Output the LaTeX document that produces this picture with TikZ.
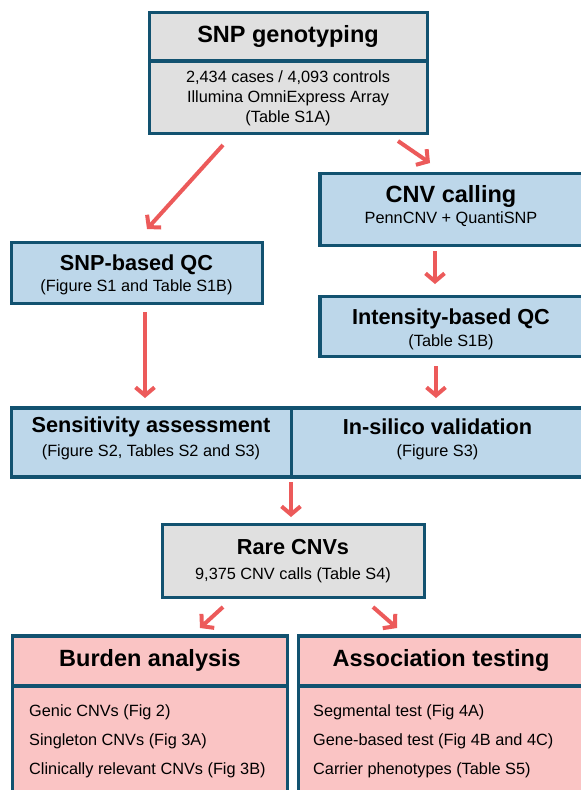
\documentclass[tikz,border=0pt]{standalone}
\usepackage{fontspec}
\setmainfont{Liberation Sans}
\usetikzlibrary{arrows.meta}
\definecolor{edge}{RGB}{18,82,112}
\definecolor{bluefill}{RGB}{189,215,234}
\definecolor{grayfill}{RGB}{224,224,224}
\definecolor{pinkfill}{RGB}{250,196,196}
\definecolor{arrowred}{RGB}{236,90,90}
\tikzset{
  box/.style={draw=edge, line width=3.5pt, anchor=north west, inner sep=0pt, outer sep=0pt},
  divider/.style={draw=edge, line width=3.5pt},
  bigtitle/.style={font=\fontsize{23.5}{28}\selectfont\bfseries, inner sep=0pt},
  midtitle/.style={font=\fontsize{21.7}{26}\selectfont\bfseries, inner sep=0pt},
  subtext/.style={font=\fontsize{16.3}{20}\selectfont, inner sep=0pt, align=center},
  itemtext/.style={font=\fontsize{16.3}{20}\selectfont, inner sep=0pt, anchor=west},
  arr/.style={draw=arrowred, line width=4pt, -{Straight Barb[length=8pt, width=19pt]}}
}
\begin{document}
\begin{tikzpicture}[x=1pt, y=-1pt]
\useasboundingbox (0,0) rectangle (581,790);
\clip (0,0) rectangle (581,790);

% boxes
\node[box, fill=grayfill, minimum width=278pt, minimum height=121pt] (snp) at (149.5,12.5) {};
\draw[divider] (snp.west |- 0,61) -- (snp.east |- 0,61);
\node[box, fill=bluefill, minimum width=265pt, minimum height=72pt] (cnv) at (320,173.5) {};
\node[box, fill=bluefill, minimum width=251pt, minimum height=61pt] (snpqc) at (11.5,242.5) {};
\node[box, fill=bluefill, minimum width=265pt, minimum height=60pt] (intqc) at (320,296.5) {};
\node[box, fill=bluefill, minimum width=280pt, minimum height=69pt] (sens) at (11.5,408) {};
\node[box, fill=bluefill, minimum width=293pt, minimum height=69pt] (insil) at (291.5,408) {};
\node[box, fill=grayfill, minimum width=262pt, minimum height=73pt] (rare) at (162.5,524.5) {};
\node[box, fill=pinkfill, minimum width=275pt, minimum height=200pt] (burden) at (12.5,636) {};
\draw[divider] (burden.west |- 0,686) -- (burden.east |- 0,686);
\node[box, fill=pinkfill, minimum width=286pt, minimum height=200pt] (assoc) at (298.5,636) {};
\draw[divider] (assoc.west |- 0,686) -- (assoc.east |- 0,686);

% texts
\node[bigtitle] (snpT) at (288,36) {SNP genotyping};
\node[subtext] (snpS) at (288,98) {2,434 cases / 4,093 controls\\Illumina OmniExpress Array\\(Table S1A)};
\node[bigtitle] (cnvT) at (451,196) {CNV calling};
\node[subtext] (cnvS) at (451,219) {PennCNV + QuantiSNP};
\node[midtitle] (snpqcT) at (136.5,265) {SNP-based QC};
\node[subtext] (snpqcS) at (136.5,287) {(Figure S1 and Table S1B)};
\node[midtitle] (intqcT) at (451,319) {Intensity-based QC};
\node[subtext] (intqcS) at (451,342) {(Table S1B)};
\node[midtitle] (sensT) at (151,427) {Sensitivity assessment};
\node[subtext] (sensS) at (151,452) {(Figure S2, Tables S2 and S3)};
\node[midtitle] (insilT) at (437.5,427) {In-silico validation};
\node[subtext] (insilS) at (437.5,452) {(Figure S3)};
\node[midtitle] (rareT) at (293,547) {Rare CNVs};
\node[subtext] (rareS) at (293,575) {9,375 CNV calls (Table S4)};
\node[bigtitle] (burdenT) at (150,660) {Burden analysis};
\node[itemtext] (b1) at (29,712) {Genic CNVs (Fig 2)};
\node[itemtext] (b2) at (29,741) {Singleton CNVs (Fig 3A)};
\node[itemtext] (b3) at (29,770) {Clinically relevant CNVs (Fig 3B)};
\node[bigtitle] (assocT) at (441,660) {Association testing};
\node[itemtext] (c1) at (313,712) {Segmental test (Fig 4A)};
\node[itemtext] (c2) at (313,741) {Gene-based test (Fig 4B and 4C)};
\node[itemtext] (c3) at (313,770) {Carrier phenotypes (Table S5)};

% arrow end points
\coordinate (a1s) at (223,145); \coordinate (a1e) at (147,229);
\coordinate (a2s) at (398,141); \coordinate (a2e) at (430,163);
\coordinate (a3s) at (435,251); \coordinate (a3e) at (435,284);
\coordinate (a4s) at (145,312); \coordinate (a4e) at (145,398);
\coordinate (a5s) at (436,366); \coordinate (a5e) at (436,398);
\coordinate (a6s) at (291,482); \coordinate (a6e) at (291,517);
\coordinate (a7s) at (223,607); \coordinate (a7e) at (200,628);
\coordinate (a8s) at (373,607); \coordinate (a8e) at (397,628);

\draw[arr] (a1s) -- (a1e);
\draw[arr] (a2s) -- (a2e);
\draw[arr] (a3s) -- (a3e);
\draw[arr] (a4s) -- (a4e);
\draw[arr] (a5s) -- (a5e);
\draw[arr] (a6s) -- (a6e);
\draw[arr] (a7s) -- (a7e);
\draw[arr] (a8s) -- (a8e);
\end{tikzpicture}
\end{document}
